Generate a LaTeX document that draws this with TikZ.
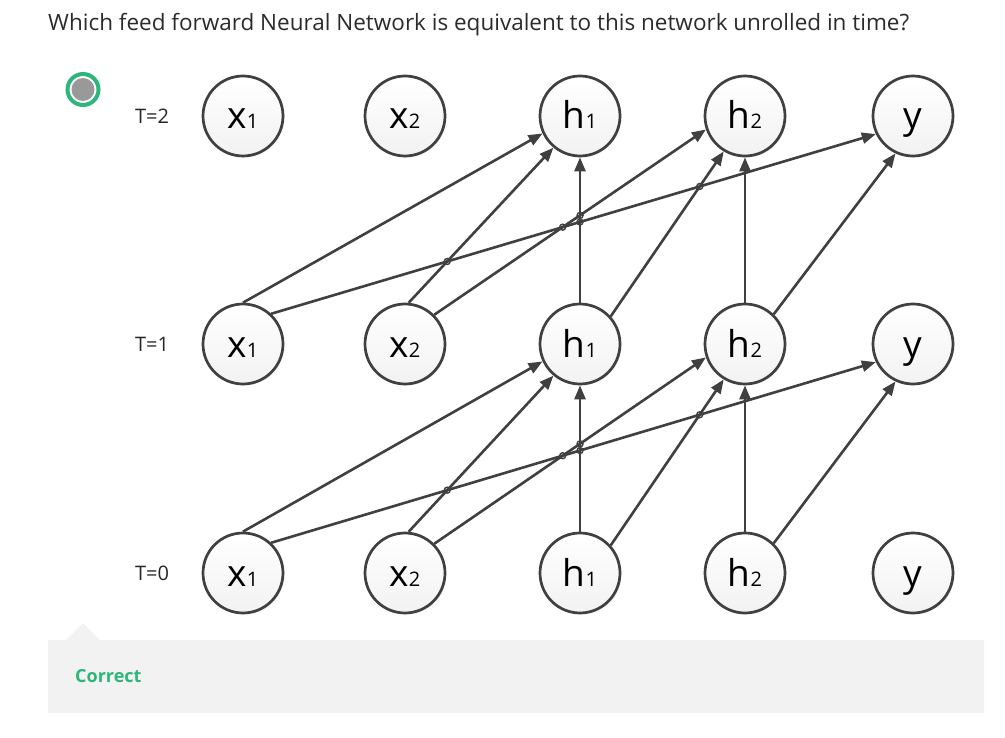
\documentclass[tikz,border=0pt]{standalone}
\usepackage{fontspec}
\setmainfont{Open Sans}
\usetikzlibrary{arrows.meta,shadows}
\definecolor{edgec}{HTML}{404040}
\definecolor{okgreen}{HTML}{2DB67A}
\definecolor{boxgray}{HTML}{F2F2F2}
\definecolor{titlec}{HTML}{2B2B2B}
\definecolor{radiogray}{HTML}{999999}
\newcommand\nlab[2]{#1{\fontsize{20}{20}\selectfont #2}}
\begin{document}
\begin{tikzpicture}[x=1pt,y=-1pt,
  neuron/.style={circle,draw=edgec,line width=2.7pt,minimum size=80pt,inner sep=0pt,
    top color=white,bottom color=boxgray,
    drop shadow={opacity=0.12,shadow xshift=1.5pt,shadow yshift=-1.5pt},
    text=black,font=\fontsize{37}{37}\selectfont,text height=26pt,text depth=0pt},
  conn/.style={draw=edgec,line width=2.6pt,-{Triangle[length=14pt,width=11pt]}},
  hop/.style={draw=edgec,line width=1.4pt},
  tlab/.style={font=\fontsize{20}{20}\selectfont,text=black!85}]
\useasboundingbox[fill=white] (0,0) rectangle (1005,738);

\node[anchor=base west,font=\fontsize{22.5}{22.5}\selectfont,text=titlec,inner sep=0pt] (title) at (48,31)
  {Which feed forward Neural Network is equivalent to this network unrolled in time?};

% radio button
\node[circle,draw=okgreen,line width=4pt,minimum size=31pt,inner sep=0pt] (radio) at (83,89.5) {};
\node[circle,fill=radiogray,minimum size=23pt,inner sep=0pt] (radiodot) at (83,89.5) {};

% nodes
\foreach \t/\yy in {0/573,1/344,2/116}{
  \node[tlab] (T\t) at (152,\yy) {T=\t};
  \node[neuron] (x1t\t) at (243,\yy) {\nlab{x}{1}};
  \node[neuron] (x2t\t) at (405,\yy) {\nlab{x}{2}};
  \node[neuron] (h1t\t) at (580,\yy) {\nlab{h}{1}};
  \node[neuron] (h2t\t) at (745,\yy) {\nlab{h}{2}};
  \node[neuron] (yt\t) at (913,\yy) {y};
}

% connections
\foreach \a/\b in {0/1,1/2}{
  \coordinate (A) at (x1t\a.47);  \coordinate (B) at (yt\b.206);
  \coordinate (C) at (x2t\a.85);  \coordinate (D) at (h1t\b.230);
  \coordinate (E) at (x2t\a.45);  \coordinate (F) at (h2t\b.199);
  \coordinate (G) at (h1t\a.north); \coordinate (H) at (h1t\b.south);
  \coordinate (I) at (h1t\a.42);  \coordinate (J) at (h2t\b.239);
  \draw[conn] (x1t\a.north) -- (h1t\b.205);
  \draw[conn] (x1t\a.47) -- (yt\b.206);
  \draw[conn] (x2t\a.85) -- (h1t\b.230);
  \draw[conn] (x2t\a.45) -- (h2t\b.199);
  \draw[conn] (h1t\a.north) -- (h1t\b.south);
  \draw[conn] (h1t\a.42) -- (h2t\b.239);
  \draw[conn] (h2t\a.north) -- (h2t\b.south);
  \draw[conn] (h2t\a.46) -- (yt\b.245);
  % line hops
  \draw[hop] (intersection of A--B and C--D) circle[radius=3pt];
  \draw[hop] (intersection of A--B and E--F) circle[radius=3pt];
  \draw[hop] (intersection of A--B and G--H) circle[radius=3pt];
  \draw[hop] (intersection of E--F and G--H) circle[radius=3pt];
  \draw[hop] (intersection of A--B and I--J) circle[radius=3pt];
}

% feedback box
\fill[boxgray] (48,640) -- (66,640) -- (83,623) -- (100,640) -- (984,640) -- (984,713) -- (48,713) -- cycle;
\node[anchor=base west,font=\fontsize{18}{18}\selectfont\bfseries,text=okgreen,inner sep=0pt] (correct) at (75,682) {Correct};
\end{tikzpicture}
\end{document}
